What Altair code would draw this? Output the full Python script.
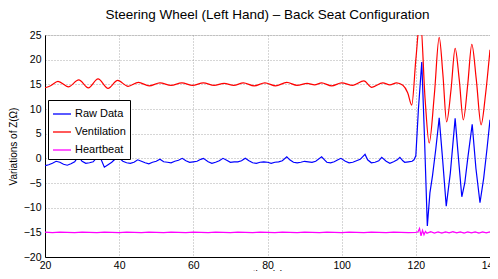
import altair as alt
import pandas as pd

# Ventilation (red)
vent_t = [20, 21.5, 23.5, 26.3, 29.1, 31.7, 34.3, 37.0, 39.6, 42.4, 45.2, 48.1, 51.0, 54.0,
          56.9, 59.8, 62.7, 65.6, 68.3, 70.9, 73.5, 76.4, 79.3, 82.2, 85.2, 88.0, 90.7, 92.7,
          94.6, 97.3, 100.0, 103.0, 106.0, 108.1, 111.1, 113.0, 114.8, 116.5, 117.8, 118.9,
          120.0, 121.2, 122.5, 123.6, 125.0, 126.3, 127.3, 128.3, 129.5, 130.6, 131.7, 132.8,
          134.0, 135.1, 136.3, 137.6, 138.8, 140]
vent_v = [14.3, 14.7, 15.6, 14.5, 15.9, 14.3, 16.1, 14.2, 15.8, 14.6, 15.4, 14.7, 15.3, 14.8,
          15.3, 14.8, 15.3, 14.8, 15.2, 14.8, 15.3, 14.7, 15.3, 14.7, 15.4, 14.8, 15.2, 14.9,
          15.3, 14.7, 15.3, 14.8, 15.7, 14.4, 15.3, 14.9, 15.3, 14.8, 13.3, 10.8,
          20.0, 28.5, 12.0, 3.1, 13.0, 24.5, 17.0, 7.4, 14.0, 22.3, 16.0, 7.8,
          15.0, 23.1, 16.0, 6.8, 13.0, 22.0]

# Raw Data (blue)
raw_t = [20, 21, 22, 23, 24, 25, 26, 27, 28, 29, 30, 31, 32, 33, 34, 35, 36, 37, 38, 39, 39.8,
         41, 42, 43, 44, 45, 46, 47, 48, 49, 50, 51, 52, 53, 54, 55, 56, 57, 58, 59, 60, 61, 62,
         62.7, 64, 65, 66, 67, 68, 69, 70, 71, 72, 73, 74, 75, 76, 77, 78, 79, 80, 81, 82, 83, 84,
         85.2, 86, 87, 88, 89, 90, 91, 92, 93, 94.6, 95.5, 96, 97, 98, 99, 99.8, 101, 102, 103,
         104, 105, 106.3, 107, 108, 109, 110, 110.8, 112, 113, 114, 115, 115.7, 116.5, 117, 118,
         119, 119.5, 120.0, 120.7, 121.6, 122.3, 123.1, 123.8, 124.5, 125.4, 126.3, 127.2, 128.2,
         129.3, 130.6, 131.5, 132.4, 133.2, 134.0, 135.2, 136.2, 137.3, 138.3, 139.2, 140]
raw_v = [-1.5, -1.3, -1.0, -0.6, -0.8, -1.2, -1.4, -1.1, -0.7, 0.4, -0.6, -1.0, -0.9, -0.7, 0.2,
         0.0, -1.8, -1.3, -0.8, -0.1, 0.2,
         -0.6, -0.9, -1.0, -0.8, -0.3, -0.6, -0.9, -1.1, -0.8, -0.6, -0.2, -0.7, -0.8, -0.9, -0.6,
         -0.4, 0.0, -0.5, -0.8, -0.7, -0.6, -0.2,
         0.0, -0.7, -1.0, -0.8, -0.5, 0.0, -0.4, -0.8, -0.7, -0.7, -0.5, 0.0, -0.5, -0.9, -1.0,
         -0.8, -0.7, -0.8, -1.0, -0.8, -0.7, -0.5,
         0.3, -0.3, -0.8, -0.9, -0.8, -0.6, -0.7, -0.8, -0.6, 0.3, -0.4, -0.8, -0.9, -0.7, -0.3,
         0.0, -0.6, -0.9, -0.8,
         -0.5, -0.2, 0.8, -0.3, -0.9, -0.8, -0.5, 0.2, -0.6, -1.0, -0.7, -0.3, 0.2, -0.5, -0.8,
         -0.7,
         -0.6, -0.3, 0.5, 10.0, 19.5, 5.0, -13.7, -7.0, -3.5, 2.0, 8.2, 0.0, -9.7,
         -3.0, 8.1, 0.0, -7.8, -5.0, 0.0, 6.9, -2.0, -9.0, -4.0, 2.0, 7.8]

# Heartbeat (magenta)
hb_t = [20, 22, 24, 26, 28, 30, 32, 34, 36, 38, 40, 42, 44, 46, 48, 50, 52, 54, 56, 58, 60,
        62, 64, 66, 68, 70, 72, 74, 76, 78, 80, 82, 84, 86, 88, 90, 92, 94, 96, 98, 100,
        102, 104, 106, 108, 110, 112, 114, 116, 118, 120, 120.6, 121.0, 121.4, 121.8, 122.2,
        122.6, 123.0, 124, 125, 126, 127, 128, 129, 130, 131, 132, 133, 134, 135, 136, 137,
        138, 139, 140]
hb_v = [-14.95, -15.05, -14.95, -15.0, -15.05, -14.95, -15.0, -15.05, -14.95, -15.0, -15.05,
        -14.95, -15.0, -15.05, -14.95, -15.0, -15.05, -14.95, -15.0, -15.05, -14.95, -15.0,
        -15.05, -14.95, -15.0, -15.05, -14.95, -15.0, -15.05, -14.95, -15.0, -15.05, -14.95,
        -15.0, -15.05, -14.95, -15.0, -15.05, -14.95, -15.0, -15.05, -14.95, -15.0, -15.05,
        -14.95, -15.0, -15.05, -14.95, -15.0, -15.05, -15.0, -14.9, -14.2, -15.7, -14.6,
        -15.5, -14.8, -15.2, -14.85, -15.15, -14.9, -15.15, -14.9, -15.1, -14.85, -15.1,
        -14.9, -15.15, -14.9, -15.1, -14.9, -15.15, -14.9, -15.1, -14.9]

series_names = ["Raw Data", "Ventilation", "Heartbeat"]
series_colors = ["#0000ff", "#ff0000", "#ff00ff"]

rows = []
for name, ts, vs in [("Raw Data", raw_t, raw_v), ("Ventilation", vent_t, vent_v),
                     ("Heartbeat", hb_t, hb_v)]:
    for i, (t, v) in enumerate(zip(ts, vs)):
        rows.append({"series": name, "t": t, "v": v, "i": i})
df = pd.DataFrame(rows)

x_ticks = [20, 40, 60, 80, 100, 120, 140]
y_ticks = [-20, -15, -10, -5, 0, 5, 10, 15, 20, 25]

font = "Liberation Sans"

xenc = alt.X("t:Q", scale=alt.Scale(domain=[20, 140], nice=False),
             axis=alt.Axis(values=x_ticks, title="time(s)", grid=True, gridColor="#999999",
                           gridDash=[1, 2], gridOpacity=0.8, domainColor="black",
                           tickSize=0, labelPadding=3, labelFontSize=10.5,
                           labelColor="black", titleFontSize=10, titleFontWeight="normal",
                           titleColor="black", titlePadding=-1, labelFont=font, titleFont=font,
                           labelFlush=False))
yenc = alt.Y("v:Q", scale=alt.Scale(domain=[-20, 25], nice=False),
             axis=alt.Axis(values=y_ticks, title="Variations of Z(Ω)", grid=True,
                           gridColor="#999999", gridDash=[1, 2], gridOpacity=0.8,
                           domainColor="black", tickSize=0, labelPadding=4,
                           labelFontSize=10.5, labelColor="black", titleFontSize=10,
                           titleFontWeight="normal", titleColor="black", titlePadding=5,
                           labelFont=font, titleFont=font, labelFlush=False))

color = alt.Color("series:N",
                  scale=alt.Scale(domain=series_names, range=series_colors),
                  sort=series_names,
                  legend=alt.Legend(title=None, orient="none", legendX=3, legendY=65,
                                    symbolType="stroke", symbolSize=324, symbolStrokeWidth=1.3,
                                    labelFontSize=11, labelFont=font, labelColor="black",
                                    strokeColor="black", fillColor="white", padding=4,
                                    rowPadding=3, labelOffset=3, cornerRadius=0))

base = alt.Chart(df)
lines = base.mark_line(strokeWidth=1.2, clip=True).transform_filter(
    alt.datum.series != "Ventilation").encode(
    x=xenc, y=yenc, color=color, order="i:Q", detail="series:N")
vent = base.mark_line(strokeWidth=1.2, clip=True, interpolate="monotone").transform_filter(
    alt.datum.series == "Ventilation").encode(
    x=xenc, y=yenc, color=color, order="i:Q")

chart = alt.layer(lines, vent).properties(
    width=445, height=222,
    title=alt.Title("Steering Wheel (Left Hand) – Back Seat Configuration",
                    fontSize=13.5, fontWeight="normal", font=font, color="black", offset=9),
    autosize=alt.AutoSizeParams(type="none"),
    padding={"left": 37, "top": 27, "right": 0, "bottom": 14},
).configure_view(stroke="black", strokeWidth=1).configure(background="white")

chart.save("out.html", embed_options={"renderer": "svg", "actions": False})
